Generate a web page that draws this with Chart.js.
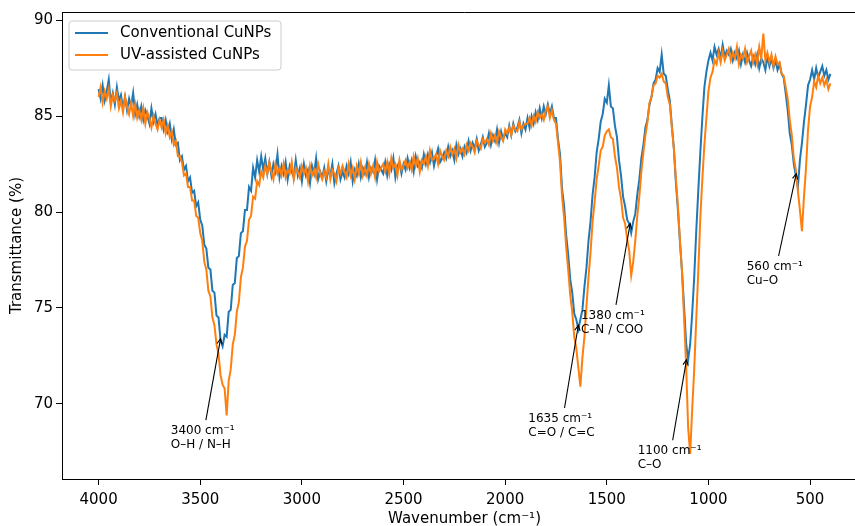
<!DOCTYPE html>
<html>
<head>
<meta charset="utf-8">
<script src="https://cdn.jsdelivr.net/npm/chart.js@4.4.1/dist/chart.umd.min.js"></script>
<style>
  html, body { margin: 0; padding: 0; background: #fff; overflow: hidden; }
  #wrap { width: 880px; height: 526px; }
</style>
</head>
<body>
<div id="wrap"><canvas id="ftir" width="880" height="526"></canvas></div>
<script>
// wavenumber grid, 4000 -> 400 cm-1, every 10
const wavenumbers = [];
for (let w = 4000; w >= 400; w -= 10) wavenumbers.push(w);

const conventional = [
  86.4, 85.9, 86.6, 85.8, 86.3, 86.9, 85.7, 86.2, 85.6, 86.5, 85.8,
  86.1, 85.4, 86.0, 85.3, 85.9, 85.5, 86.2, 85.1, 85.6, 85.0,
  85.5, 84.8, 85.3, 85.0, 84.6, 85.4, 84.7, 85.1, 84.5, 84.9,
  84.9, 84.3, 84.8, 84.2, 84.6, 83.8, 84.3, 83.5, 83.6, 82.7,
  82.9, 82.2, 82.4, 81.6, 81.8, 81.0, 81.1, 80.3, 80.5, 79.6,
  79.3, 78.3, 78.1, 77.1, 77.0, 75.9, 75.8, 74.6, 74.5, 73.3,
  73.0, 73.6, 73.5, 74.8, 74.9, 76.2, 76.3, 77.6, 77.7, 78.9,
  79.0, 80.1, 80.1, 81.3, 81.1, 82.3, 81.8, 82.7, 82.1, 82.9,
  82.2, 82.8, 82.0, 82.6, 81.9, 82.5, 82.1, 83.0, 81.8, 82.4,
  82.0, 82.6, 81.7, 82.4, 82.1, 81.8, 82.7, 81.9, 82.3, 81.6,
  82.5, 81.9, 82.2, 81.5, 82.4, 82.0, 82.8, 81.7, 82.1, 81.8,
  82.3, 81.6, 82.2, 81.9, 82.5, 81.5, 82.0, 82.4, 81.7, 82.1,
  81.8, 82.4, 82.0, 82.6, 81.6, 82.2, 81.9, 82.5, 81.8, 82.3,
  82.0, 82.6, 81.8, 82.3, 82.1, 82.7, 81.7, 82.4, 82.2, 82.0,
  82.6, 81.9, 82.5, 82.2, 82.8, 81.8, 82.4, 82.6, 82.0, 82.5,
  82.2, 82.8, 82.3, 82.7, 82.1, 82.9, 82.4, 82.6, 82.3, 83.0,
  82.5, 83.0, 82.6, 83.1, 82.4, 82.9, 83.3, 82.6, 82.8, 83.1,
  82.8, 83.4, 82.9, 83.2, 82.7, 83.5, 83.0, 83.3, 82.9, 83.4,
  83.1, 83.7, 83.2, 83.6, 83.3, 83.8, 83.2, 83.5, 83.9, 83.4,
  83.6, 84.1, 83.5, 84.0, 83.7, 84.3, 83.6, 84.2, 83.8, 84.1,
  83.9, 84.5, 84.0, 84.6, 84.2, 84.4, 84.8, 84.1, 84.6, 84.3,
  84.9, 84.4, 85.0, 84.6, 85.2, 84.8, 85.4, 84.9, 85.5, 85.1,
  85.6, 85.1, 85.5, 84.9, 84.9, 83.8, 83.0, 81.2, 80.3, 78.8,
  77.8, 76.5, 75.8, 74.7, 74.4, 73.9, 74.4, 74.9, 76.1, 77.1,
  78.5, 79.5, 80.9, 81.8, 83.1, 83.8, 84.7, 85.1, 85.9, 85.7,
  86.6, 85.5, 85.4, 84.5, 83.9, 82.7, 81.9, 80.8, 80.3, 79.6,
  79.4, 78.9, 79.5, 79.9, 80.9, 81.7, 82.8, 83.5, 84.4, 84.8,
  85.6, 86.0, 86.7, 86.9, 87.5, 87.3, 88.2, 87.2, 87.1, 86.4,
  85.8, 84.5, 83.3, 81.5, 80.1, 78.4, 76.9, 75.1, 73.2, 72.3,
  73.1, 74.7, 76.6, 79.0, 81.1, 83.1, 84.9, 86.5, 87.3, 87.9,
  88.3, 87.9, 88.6, 88.2, 88.5, 88.0, 88.7, 88.1, 88.4, 88.2,
  88.5, 87.9, 88.3, 88.0, 88.4, 87.7, 88.2, 87.8, 88.3, 87.9,
  87.6, 88.1, 87.7, 88.2, 87.5, 88.0, 87.8, 87.4, 88.1, 87.6,
  88.0, 87.5, 87.9, 87.4, 87.7, 87.2, 87.0, 86.2, 85.3, 84.1,
  83.5, 82.5, 81.9, 81.3, 82.7, 83.6, 84.7, 85.6, 86.6, 86.9,
  87.4, 86.9, 87.5, 87.0, 87.3, 87.6, 87.1, 87.4, 86.9, 87.2
];

const uvAssisted = [
  86.0, 86.5, 85.7, 86.3, 85.9, 86.4, 85.5, 86.1, 85.8, 86.2, 85.4,
  85.8, 85.2, 86.0, 85.5, 85.1, 85.7, 85.0, 85.6, 84.9, 85.3,
  84.8, 85.4, 84.6, 85.2, 84.9, 84.4, 85.0, 84.6, 84.3, 84.8,
  84.4, 84.8, 84.1, 84.5, 83.9, 84.2, 83.5, 83.7, 82.9, 82.9,
  82.6, 81.9, 82.0, 81.3, 81.3, 80.6, 80.6, 79.8, 79.7, 78.9,
  78.5, 77.4, 77.0, 75.9, 75.6, 74.5, 74.1, 73.1, 72.6, 71.5,
  71.0, 70.8, 69.4, 71.2, 71.8, 73.1, 73.6, 74.8, 75.3, 76.6,
  77.1, 78.2, 78.5, 79.6, 79.8, 80.8, 80.7, 81.6, 81.4, 82.1,
  81.8, 82.4, 82.0, 82.6, 82.1, 81.7, 82.5, 82.0, 82.3, 81.9,
  82.5, 81.8, 82.2, 82.0, 82.6, 81.7, 82.3, 82.1, 81.8, 82.4,
  82.0, 82.3, 81.6, 82.4, 81.9, 82.2, 81.8, 82.5, 82.0, 81.7,
  82.1, 81.8, 82.5, 81.7, 82.2, 82.0, 81.6, 82.3, 82.0, 82.4,
  82.1, 81.8, 82.5, 81.9, 82.3, 81.7, 82.4, 82.0, 82.6, 81.9,
  82.3, 81.9, 82.5, 82.0, 82.4, 81.8, 82.6, 82.1, 82.3, 82.5,
  82.1, 82.6, 82.0, 82.8, 82.3, 82.5, 81.9, 82.7, 82.2, 82.4,
  82.7, 82.3, 82.6, 82.2, 82.9, 82.4, 82.8, 82.1, 82.7, 82.5,
  82.9, 82.4, 83.2, 82.7, 82.8, 83.0, 82.5, 83.2, 82.9, 82.7,
  83.2, 82.9, 83.4, 83.0, 83.3, 82.8, 83.5, 83.1, 83.3, 83.0,
  83.5, 83.2, 83.6, 83.4, 83.1, 83.7, 83.5, 83.3, 83.8, 83.6,
  83.8, 83.5, 84.1, 83.7, 84.0, 83.6, 84.2, 83.9, 83.7, 84.3,
  84.1, 84.4, 84.0, 84.5, 84.3, 84.2, 84.7, 84.3, 84.5, 84.6,
  84.6, 84.9, 84.5, 85.0, 84.7, 85.2, 84.9, 85.1, 84.8, 85.3,
  85.5, 84.9, 85.3, 84.8, 84.6, 83.6, 82.6, 80.8, 79.7, 78.2,
  77.0, 75.7, 74.8, 73.5, 72.9, 71.9, 70.9, 72.4, 73.5, 75.1,
  76.6, 77.9, 79.5, 80.5, 81.7, 82.4, 83.2, 83.4, 84.0, 84.2,
  84.3, 83.9, 83.8, 82.9, 82.3, 81.3, 80.7, 79.7, 79.4, 78.6,
  78.0, 76.7, 77.4, 78.5, 79.8, 80.8, 82.1, 83.1, 84.0, 84.7,
  85.7, 86.0, 86.6, 86.7, 87.1, 87.0, 87.2, 86.8, 86.7, 86.0,
  85.6, 84.4, 83.3, 81.7, 80.3, 78.5, 76.9, 74.5, 72.1, 68.8,
  67.4, 69.7, 71.8, 74.4, 76.9, 79.7, 81.7, 83.5, 84.9, 86.3,
  87.0, 87.3, 87.9, 87.7, 88.3, 87.8, 88.4, 87.9, 88.2, 88.5,
  87.9, 88.3, 88.0, 88.6, 87.7, 88.2, 88.0, 88.5, 87.8, 88.1,
  88.4, 87.8, 88.2, 87.7, 88.6, 88.0, 89.3, 87.9, 88.3, 87.8,
  88.2, 87.6, 88.1, 87.7, 87.8, 87.2, 87.1, 86.5, 85.9, 84.8,
  84.0, 82.8, 82.2, 81.1, 80.1, 79.0, 80.8, 82.3, 84.3, 85.5,
  86.0, 86.8, 86.5, 87.1, 86.7, 87.0, 86.6, 86.9, 86.4, 86.7
];

const xTicks = [4000, 3500, 3000, 2500, 2000, 1500, 1000, 500];
const yTicks = [70, 75, 80, 85, 90];

// band labels: arrow tip (peakX, peakY), text top-left (textX, textY)
const bandLabels = ['3400 cm⁻¹\nO–H / N–H', '1635 cm⁻¹\nC=O / C=C', '1380 cm⁻¹\nC–N / COO', '1100 cm⁻¹\nC–O', '560 cm⁻¹\nCu–O'];
const bandPeakX = [3400, 1640, 1385, 1108, 568];
const bandPeakY = [73.4, 74.1, 79.4, 72.3, 82.0];
const bandTextX = [3645, 1886, 1627, 1348, 812];
const bandTextY = [68.95, 69.58, 74.95, 67.9, 77.5];

const seriesNames = ['Conventional CuNPs', 'UV-assisted CuNPs'];
const seriesColors = ['#1f77b4', '#ff7f0e'];

const FONT = '"DejaVu Sans", sans-serif';

const pts = arr => wavenumbers.map((w, i) => ({x: w, y: arr[i]}));

const extras = {
  id: 'extras',
  afterDatasetsDraw(chart) {
    const {ctx, chartArea: a, scales: {x, y}} = chart;
    ctx.save();
    // top + right spine
    ctx.strokeStyle = '#000';
    ctx.lineWidth = 1;
    ctx.beginPath();
    ctx.moveTo(a.left, a.top + 0.5);
    ctx.lineTo(a.right - 0.5, a.top + 0.5);
    ctx.lineTo(a.right - 0.5, a.bottom);
    ctx.stroke();

    // annotations
    ctx.font = '12px ' + FONT;
    ctx.textBaseline = 'middle';
    ctx.textAlign = 'left';
    ctx.fillStyle = '#000';
    const lh = 14;
    bandLabels.forEach((lab, k) => {
      const lines = lab.split('\n');
      const tx = x.getPixelForValue(bandTextX[k]);
      const ty = y.getPixelForValue(bandTextY[k]);
      const w = Math.max(...lines.map(s => ctx.measureText(s).width));
      const h = lines.length * lh;
      lines.forEach((s, i) => ctx.fillText(s, tx, ty + lh / 2 + i * lh));
      const cx = tx + w / 2, cy = ty + h / 2;
      const px = x.getPixelForValue(bandPeakX[k]);
      const py = y.getPixelForValue(bandPeakY[k]);
      const dx = px - cx, dy = py - cy;
      const t = Math.min(Math.abs((h / 2 + 4) / dy), Math.abs((w / 2 + 4) / (dx || 1e-6)));
      const sx = cx + dx * t, sy = cy + dy * t;
      ctx.lineWidth = 1.1;
      ctx.beginPath();
      ctx.moveTo(sx, sy);
      ctx.lineTo(px, py);
      ctx.stroke();
      const ang = Math.atan2(py - sy, px - sx);
      const hl = 6, hw = 0.45;
      ctx.beginPath();
      ctx.moveTo(px - hl * Math.cos(ang - hw), py - hl * Math.sin(ang - hw));
      ctx.lineTo(px, py);
      ctx.lineTo(px - hl * Math.cos(ang + hw), py - hl * Math.sin(ang + hw));
      ctx.stroke();
    });

    // legend
    const lx = 69, ly = 21, lw = 212, lhh = 49, r = 3;
    ctx.beginPath();
    ctx.moveTo(lx + r, ly);
    ctx.arcTo(lx + lw, ly, lx + lw, ly + lhh, r);
    ctx.arcTo(lx + lw, ly + lhh, lx, ly + lhh, r);
    ctx.arcTo(lx, ly + lhh, lx, ly, r);
    ctx.arcTo(lx, ly, lx + lw, ly, r);
    ctx.closePath();
    ctx.fillStyle = 'rgba(255,255,255,0.8)';
    ctx.fill();
    ctx.strokeStyle = '#cccccc';
    ctx.lineWidth = 1;
    ctx.stroke();
    ctx.font = '15px ' + FONT;
    seriesNames.forEach((name, i) => {
      const yy = 33 + i * 22;
      ctx.strokeStyle = seriesColors[i];
      ctx.lineWidth = 2.2;
      ctx.beginPath();
      ctx.moveTo(75, yy);
      ctx.lineTo(108, yy);
      ctx.stroke();
      ctx.fillStyle = '#000';
      ctx.fillText(name, 120, yy);
    });
    ctx.restore();
  }
};

const axisFont = {family: FONT, size: 15};

new Chart(document.getElementById('ftir'), {
  type: 'line',
  data: {
    datasets: [
      {label: seriesNames[0], data: pts(conventional), borderColor: seriesColors[0], borderWidth: 2, pointRadius: 0, tension: 0, order: 1},
      {label: seriesNames[1], data: pts(uvAssisted), borderColor: seriesColors[1], borderWidth: 2, pointRadius: 0, tension: 0, order: 0}
    ]
  },
  options: {
    responsive: false,
    animation: false,
    devicePixelRatio: 1,
    layout: {padding: {left: 0, top: 12, right: 13, bottom: 0}},
    plugins: {legend: {display: false}, tooltip: {enabled: false}},
    scales: {
      x: {
        type: 'linear',
        reverse: true,
        min: 220,
        max: 4180,
        afterBuildTicks: s => { s.ticks = xTicks.map(v => ({value: v})); },
        afterFit: s => { s.height = 47; },
        grid: {drawOnChartArea: false, drawTicks: true, tickLength: 6, color: '#000'},
        border: {display: true, color: '#000', width: 1},
        ticks: {color: '#000', font: axisFont, padding: 6, maxRotation: 0, callback: v => String(v)},
        title: {display: true, text: 'Wavenumber (cm⁻¹)', color: '#000', font: axisFont, padding: {top: 0, bottom: -2}}
      },
      y: {
        min: 66.09,
        max: 90.42,
        afterBuildTicks: s => { s.ticks = yTicks.map(v => ({value: v})); },
        afterFit: s => { s.width = 62; },
        grid: {drawOnChartArea: false, drawTicks: true, tickLength: 6, color: '#000'},
        border: {display: true, color: '#000', width: 1},
        ticks: {color: '#000', font: axisFont, padding: 3, callback: v => String(v)},
        title: {display: true, text: 'Transmittance (%)', color: '#000', font: axisFont, padding: {top: 8, bottom: 0}}
      }
    }
  },
  plugins: [extras]
});
</script>
</body>
</html>
